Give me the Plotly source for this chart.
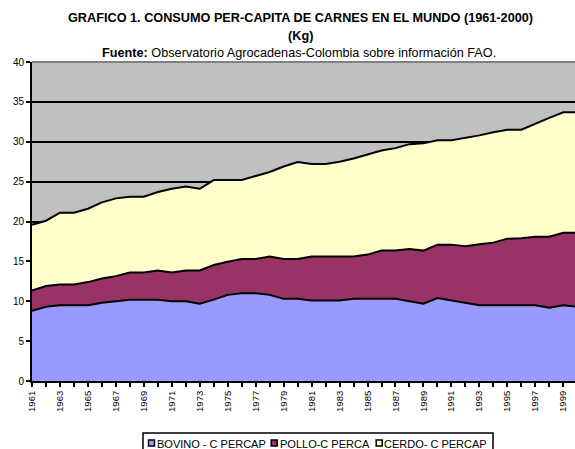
import plotly.graph_objects as go

years = list(range(1961, 2001))
bovino = [8.8, 9.3, 9.5, 9.5, 9.5, 9.8, 10.0, 10.2, 10.2, 10.2,
          10.0, 10.0, 9.7, 10.2, 10.8, 11.0, 11.0, 10.8, 10.3, 10.3,
          10.1, 10.1, 10.1, 10.3, 10.3, 10.3, 10.3, 10.0, 9.7, 10.4,
          10.1, 9.8, 9.5, 9.5, 9.5, 9.5, 9.5, 9.2, 9.5, 9.3]
pollo = [2.55, 2.6, 2.6, 2.6, 2.9, 3.05, 3.15, 3.4, 3.4, 3.65,
         3.6, 3.85, 4.15, 4.35, 4.15, 4.3, 4.3, 4.8, 5.0, 5.0,
         5.5, 5.5, 5.5, 5.3, 5.55, 6.05, 6.05, 6.55, 6.65, 6.7,
         7.0, 7.1, 7.65, 7.85, 8.35, 8.4, 8.6, 8.9, 9.1, 9.3]
cerdo = [8.25, 8.2, 9.0, 9.0, 9.2, 9.55, 9.75, 9.5, 9.5, 9.85,
         10.5, 10.55, 10.25, 10.65, 10.25, 9.9, 10.4, 10.6, 11.6, 12.15,
         11.6, 11.6, 11.9, 12.3, 12.55, 12.55, 12.85, 13.15, 13.45, 13.1,
         13.1, 13.6, 13.65, 13.85, 13.65, 13.6, 14.2, 14.9, 15.1, 15.1]
series_names = ["BOVINO - C PERCAP", "POLLO-C PERCA", "CERDO- C PERCAP"]
series_colors = ["#9999FF", "#993366", "#FFFFCC"]
tick_years = years[:-1]
tick_text = [str(y) if (y - 1961) % 2 == 0 else "" for y in tick_years]

# plot-area geometry (pixels)
L, R, T, B = 32, 575, 62, 381
W, H = 575, 449


def px(x):
    return (x - L) / (R - L)


def py(y):
    return (B - y) / (B - T)


fig = go.Figure()
for name, vals, col in zip(series_names, [bovino, pollo, cerdo], series_colors):
    fig.add_trace(go.Scatter(
        x=years, y=vals, name=name, mode="lines", stackgroup="one",
        fillcolor=col, line=dict(color="black", width=2), showlegend=False,
    ))

FONT = "Liberation Sans, Arial, sans-serif"

shapes = [dict(type="line", xref="paper", yref="paper", x0=0, x1=1, y0=1, y1=1,
               line=dict(color="#808080", width=2))]
# legend box
shapes.append(dict(type="rect", xref="paper", yref="paper",
                   x0=px(143), x1=px(493), y0=py(433), y1=py(455),
                   line=dict(color="black", width=1.5), fillcolor="white", layer="above"))
annotations = [
    dict(text="<b>GRAFICO 1. CONSUMO PER-CAPITA DE CARNES EN EL MUNDO (1961-2000)</b>",
         xref="paper", yref="paper", x=px(300), y=py(17.5), showarrow=False,
         xanchor="center", yanchor="middle", font=dict(size=12.7)),
    dict(text="<b>(Kg)</b>", xref="paper", yref="paper", x=px(300), y=py(35.5), showarrow=False,
         xanchor="center", yanchor="middle", font=dict(size=12.7)),
    dict(text="<b>Fuente:</b> Observatorio Agrocadenas-Colombia sobre información FAO.",
         xref="paper", yref="paper", x=px(299), y=py(53), showarrow=False,
         xanchor="center", yanchor="middle", font=dict(size=12.7)),
]
leg_sq = [151.5, 274.2, 379.2]
leg_tx = [155, 277.5, 382]
for name, col, sx, tx in zip(series_names, series_colors, leg_sq, leg_tx):
    shapes.append(dict(type="rect", xref="paper", yref="paper",
                       x0=px(sx - 3), x1=px(sx + 3), y0=py(440), y1=py(446),
                       line=dict(color="black", width=1.5), fillcolor=col, layer="above"))
    annotations.append(dict(text=name, xref="paper", yref="paper", x=px(tx), y=py(443.5),
                            showarrow=False, xanchor="left", yanchor="middle",
                            font=dict(size=11)))

fig.update_layout(
    width=W, height=H,
    margin=dict(l=L, r=W - R, t=T, b=H - B),
    paper_bgcolor="white", plot_bgcolor="#C0C0C0",
    font=dict(family=FONT, size=10, color="black"),
    showlegend=False,
    hovermode=False,
    xaxis=dict(range=[1961, 1999.84], tickmode="array", tickvals=tick_years, ticktext=tick_text,
               tickangle=-90, showgrid=False, showline=True, linecolor="black", linewidth=2,
               ticks="outside", ticklen=4, tickwidth=2, tickcolor="black", zeroline=False,
               tickfont=dict(size=9.5), automargin=False),
    yaxis=dict(range=[0, 40], tickvals=[0, 5, 10, 15, 20, 25, 30, 35, 40],
               showgrid=True, gridcolor="black", gridwidth=2, showline=True,
               linecolor="black", linewidth=2, ticks="outside", ticklen=4, tickwidth=2,
               tickcolor="black", zeroline=False, tickfont=dict(size=10), automargin=False),
    shapes=shapes,
    annotations=annotations,
)
fig.write_html("out.html", config={"displayModeBar": False},
               post_script="document.body.style.margin='0';document.body.style.overflow='hidden';")
